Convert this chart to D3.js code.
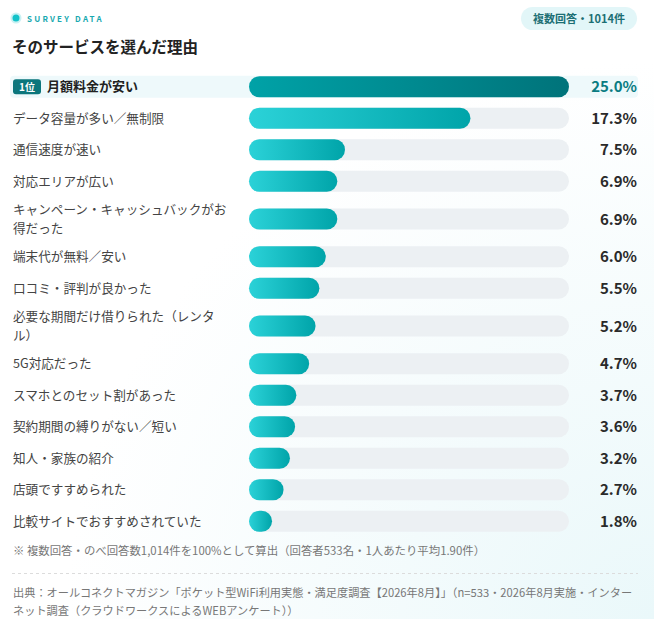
<!DOCTYPE html>
<html>
<head>
<meta charset="utf-8">
<script src="https://cdn.jsdelivr.net/npm/d3@7"></script>
<style>
  html, body { margin: 0; padding: 0; background: #fff; }
  svg { display: block; font-family: "Noto Sans CJK JP", "Noto Sans", sans-serif; }
</style>
</head>
<body>
<div id="chart"></div>
<script>
// reasons and shares (%)
const reasons = [
  '月額料金が安い',
  'データ容量が多い／無制限',
  '通信速度が速い',
  '対応エリアが広い',
  'キャンペーン・キャッシュバックがお得だった',
  '端末代が無料／安い',
  '口コミ・評判が良かった',
  '必要な期間だけ借りられた（レンタル）',
  '5G対応だった',
  'スマホとのセット割があった',
  '契約期間の縛りがない／短い',
  '知人・家族の紹介',
  '店頭ですすめられた',
  '比較サイトでおすすめされていた'
]
const shares = [25.0, 17.3, 7.5, 6.9, 6.9, 6.0, 5.5, 5.2, 4.7, 3.7, 3.6, 3.2, 2.7, 1.8]

const eyebrow = 'SURVEY DATA'
const title = 'そのサービスを選んだ理由'
const pillText = '複数回答・1014件'
const note = '※ 複数回答・のべ回答数1,014件を100%として算出（回答者533名・1人あたり平均1.90件）'
const source = '出典：オールコネクトマガジン「ポケット型WiFi利用実態・満足度調査【2026年8月】」（n=533・2026年8月実施・インターネット調査（クラウドワークスによるWEBアンケート））'

const width = 654
const height = 619
const labelX = 13
const labelWrap = 218
const barH = 21
const x = d3.scaleLinear().domain([0, 25]).range([249, 569])

const svg = d3.select('#chart').append('svg')
  .attr('width', width).attr('height', height)

const defs = svg.append('defs')
const bg = defs.append('radialGradient').attr('id', 'bg')
  .attr('cx', 1).attr('cy', 1).attr('r', 0.9)
bg.append('stop').attr('offset', 0).attr('stop-color', '#eaf8fa')
bg.append('stop').attr('offset', 1).attr('stop-color', '#ffffff')

const gTop = defs.append('linearGradient').attr('id', 'gTop')
gTop.append('stop').attr('offset', 0).attr('stop-color', '#00a2a7')
gTop.append('stop').attr('offset', 1).attr('stop-color', '#00737a')
const gBar = defs.append('linearGradient').attr('id', 'gBar')
gBar.append('stop').attr('offset', 0).attr('stop-color', '#2bd2d8')
gBar.append('stop').attr('offset', 1).attr('stop-color', '#00a4a9')

svg.append('rect').attr('width', width).attr('height', height).attr('fill', 'url(#bg)')

// header
svg.append('circle').attr('cx', 16).attr('cy', 18).attr('r', 5.5).attr('fill', '#c9f1f3')
svg.append('circle').attr('cx', 16).attr('cy', 18).attr('r', 3.5).attr('fill', '#13c2c9')
svg.append('text').attr('x', 27).attr('y', 21.5)
  .attr('font-size', 8).attr('font-weight', 700).attr('letter-spacing', 2.2)
  .attr('fill', '#19a9b0').text(eyebrow)

svg.append('rect').attr('x', 521).attr('y', 7).attr('width', 116).attr('height', 23)
  .attr('rx', 11.5).attr('fill', '#e2f6f8')
svg.append('text').attr('x', 579).attr('y', 22.5).attr('text-anchor', 'middle')
  .attr('font-size', 11).attr('font-weight', 700).attr('fill', '#1c6f74').text(pillText)

svg.append('text').attr('x', 12).attr('y', 53)
  .attr('font-size', 15.5).attr('font-weight', 700).attr('fill', '#222').text(title)

// wrap helper: splits a string into lines that fit maxW
// (closing brackets may not start a line, so they pull the previous char along)
const noStart = '）」】、。'
function wrapLines(str, maxW, size, weight) {
  const probe = svg.append('text')
    .attr('font-size', size).attr('font-weight', weight || 400)
  const lines = []
  let cur = ''
  const chars = [...str]
  chars.forEach((ch, i) => {
    probe.text(cur + ch)
    if (cur && probe.node().getComputedTextLength() > maxW) {
      if (noStart.includes(ch) && cur.length > 1) {
        lines.push(cur.slice(0, -1))
        cur = cur.slice(-1) + ch
      } else {
        lines.push(cur)
        cur = ch
      }
    } else cur += ch
  })
  if (cur) lines.push(cur)
  probe.remove()
  return lines
}

// rows
const rows = reasons.map((r, i) => ({
  label: r, value: shares[i], top: i === 0,
  lines: i === 0 ? [r] : wrapLines(r, labelWrap, 12.6, 400)
}))
let yPos = 71
rows.forEach(d => {
  d.h = d.lines.length > 1 ? 44 : 31.5
  d.cy = yPos + d.h / 2
  yPos += d.h
})

const row = svg.selectAll('.row').data(rows).enter().append('g')
  .attr('class', 'row')
  .attr('transform', d => `translate(0,${d.cy})`)

row.filter(d => d.top).append('rect')
  .attr('x', 10).attr('y', -11).attr('width', 628).attr('height', 22)
  .attr('rx', 4).attr('fill', '#eef9fb')

row.append('rect')
  .attr('x', x(0)).attr('y', -barH / 2)
  .attr('width', x(25) - x(0)).attr('height', barH)
  .attr('rx', barH / 2).attr('fill', d => d.top ? 'none' : '#ecf0f3')

row.append('rect')
  .attr('x', x(0)).attr('y', -barH / 2)
  .attr('width', d => x(d.value) - x(0)).attr('height', barH)
  .attr('rx', barH / 2)
  .attr('fill', d => d.top ? 'url(#gTop)' : 'url(#gBar)')

row.append('text')
  .attr('x', 637).attr('y', 5.5).attr('text-anchor', 'end')
  .attr('font-size', 15).attr('font-weight', 700)
  .attr('fill', d => d.top ? '#0b7c82' : '#2a2a2a')
  .text(d => d.value.toFixed(1) + '%')

// top badge
const topRow = row.filter(d => d.top)
topRow.append('rect').attr('x', 13).attr('y', -7.5).attr('width', 28).attr('height', 15)
  .attr('rx', 3).attr('fill', '#0b767c')
topRow.append('text').attr('x', 27).attr('y', 4).attr('text-anchor', 'middle')
  .attr('font-size', 10).attr('font-weight', 700).attr('fill', '#fff').text('1位')
topRow.append('text').attr('x', 47).attr('y', 4.5)
  .attr('font-size', 13).attr('font-weight', 700).attr('fill', '#222')
  .text(d => d.label)

// other labels
row.filter(d => !d.top).each(function (d) {
  const t = d3.select(this).append('text')
    .attr('x', labelX).attr('font-size', 12.6).attr('fill', '#444')
  const n = d.lines.length
  d.lines.forEach((ln, k) => {
    t.append('tspan').attr('x', labelX)
      .attr('y', 4.5 + (k - (n - 1) / 2) * 19)
      .text(ln)
  })
})

// footnote
svg.append('text').attr('x', 13).attr('y', 555)
  .attr('font-size', 11.4).attr('fill', '#777').text(note)

svg.append('line').attr('x1', 12).attr('x2', 638).attr('y1', 573.5).attr('y2', 573.5)
  .attr('stroke', '#dcdcdc').attr('stroke-dasharray', '3,3')

const srcLines = wrapLines(source, 628, 11.2, 400)
svg.append('text').attr('font-size', 11.2).attr('fill', '#777')
  .selectAll('tspan').data(srcLines).enter().append('tspan')
  .attr('x', 13).attr('y', (d, i) => 597 + i * 18).text(d => d)
</script>
</body>
</html>
